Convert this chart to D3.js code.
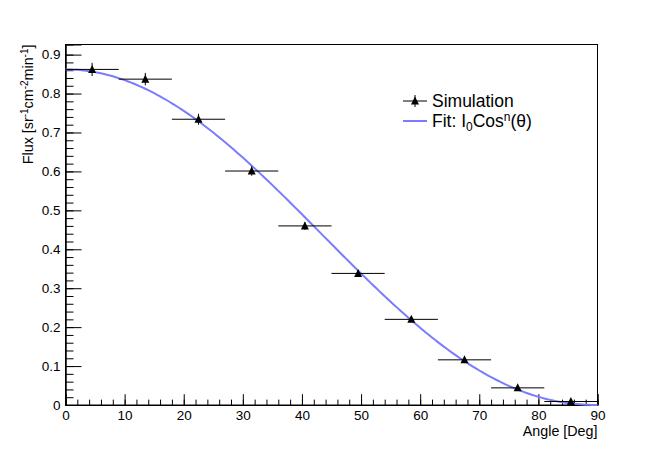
<!DOCTYPE html>
<html>
<head>
<meta charset="utf-8">
<script src="https://cdn.jsdelivr.net/npm/d3@7"></script>
<style>
  body { margin: 0; background: #fff; }
  svg text { font-family: "Liberation Sans", Arial, sans-serif; }
</style>
</head>
<body>
<svg id="chart" width="664" height="450"></svg>
<script>
// bin centres (deg) and half widths
const angles = [4.5, 13.5, 22.5, 31.5, 40.5, 49.5, 58.5, 67.5, 76.5, 85.5];
const angleErr = [4.5, 4.5, 4.5, 4.5, 4.5, 4.5, 4.5, 4.5, 4.5, 4.5];
const flux = [0.862, 0.837, 0.734, 0.601, 0.460, 0.338, 0.220, 0.116, 0.044, 0.009];
const fluxErr = [0.017, 0.016, 0.014, 0.012, 0.010, 0.008, 0.006, 0.005, 0.003, 0.002];

// fit parameters for I0 cos^n(theta)
const fitI0 = 0.862;
const fitN = 2.12;

const xTicks = [0, 10, 20, 30, 40, 50, 60, 70, 80, 90];
const yTicks = [0, 0.1, 0.2, 0.3, 0.4, 0.5, 0.6, 0.7, 0.8, 0.9];

const svg = d3.select("#chart");
const frameLeft = 65.5, frameRight = 597.5, frameTop = 44.5, frameBottom = 405;

const x = d3.scaleLinear().domain([0, 90]).range([frameLeft, frameRight]);
const y = d3.scaleLinear().domain([0, 0.926]).range([frameBottom, frameTop]);

// frame
svg.append("rect")
    .attr("x", frameLeft).attr("y", frameTop)
    .attr("width", frameRight - frameLeft).attr("height", frameBottom - frameTop)
    .attr("fill", "none").attr("stroke", "#000").attr("stroke-width", 1);

// x axis, ticks pointing inside
const xMajor = d3.axisBottom(x).tickValues(xTicks).tickSize(-10.8).tickPadding(5)
    .tickFormat(d3.format("d"));
const xMinor = d3.axisBottom(x).tickValues(d3.range(0, 91, 2)).tickSize(-5.4).tickFormat("");
svg.append("g").attr("transform", `translate(0,${frameBottom})`).call(xMinor);
svg.append("g").attr("class", "xaxis").attr("transform", `translate(0,${frameBottom})`).call(xMajor);

// y axis
const yMajor = d3.axisLeft(y).tickValues(yTicks).tickSize(-16).tickPadding(5)
    .tickFormat(d => d === 0 ? "0" : d.toFixed(1));
const yMinor = d3.axisLeft(y).tickValues(d3.range(0, 46).map(i => i * 0.02)).tickSize(-8).tickFormat("");
svg.append("g").attr("transform", `translate(${frameLeft},0)`).call(yMinor);
svg.append("g").attr("class", "yaxis").attr("transform", `translate(${frameLeft},0)`).call(yMajor);

svg.selectAll(".domain").attr("stroke", "#000");
svg.selectAll(".tick line").attr("stroke", "#000");
svg.selectAll(".tick text").attr("font-size", 13.5).attr("fill", "#000")
    .style("font-family", "'Liberation Sans', Arial, sans-serif");

// axis titles
svg.append("text")
    .attr("x", frameRight).attr("y", 436)
    .attr("text-anchor", "end")
    .attr("font-size", 14.3)
    .text("Angle [Deg]");

const yTitle = svg.append("text")
    .attr("transform", `translate(33,${frameTop}) rotate(-90)`)
    .attr("text-anchor", "end")
    .attr("font-size", 14.3);
yTitle.append("tspan").text("Flux [sr");
yTitle.append("tspan").attr("dy", -5.5).attr("font-size", 10).text("-1");
yTitle.append("tspan").attr("dy", 5.5).text("cm");
yTitle.append("tspan").attr("dy", -5.5).attr("font-size", 10).text("-2");
yTitle.append("tspan").attr("dy", 5.5).text("min");
yTitle.append("tspan").attr("dy", -5.5).attr("font-size", 10).text("-1");
yTitle.append("tspan").attr("dy", 5.5).text("]");

// fit curve
const fitLine = d3.line()
    .x(d => x(d))
    .y(d => y(fitI0 * Math.pow(Math.cos(d * Math.PI / 180), fitN)));
svg.append("path")
    .attr("d", fitLine(d3.range(0, 90.01, 0.5)))
    .attr("fill", "none")
    .attr("stroke", "#7b7bff")
    .attr("stroke-width", 2);

// error bars
const pts = angles.map((a, i) => ({a: a, ea: angleErr[i], f: flux[i], ef: fluxErr[i]}));
svg.selectAll(".hbar").data(pts).join("line")
    .attr("x1", d => x(d.a - d.ea)).attr("x2", d => x(d.a + d.ea))
    .attr("y1", d => y(d.f)).attr("y2", d => y(d.f))
    .attr("stroke", "#000").attr("stroke-width", 1);
svg.selectAll(".vbar").data(pts).join("line")
    .attr("x1", d => x(d.a)).attr("x2", d => x(d.a))
    .attr("y1", d => y(d.f - d.ef)).attr("y2", d => y(d.f + d.ef))
    .attr("stroke", "#000").attr("stroke-width", 1);

// triangle markers
function triangle(cx, cy) {
    return `M${cx},${cy - 4.5}L${cx + 4},${cy + 3.5}L${cx - 4},${cy + 3.5}Z`;
}
svg.selectAll(".marker").data(pts).join("path")
    .attr("d", d => triangle(x(d.a), y(d.f)))
    .attr("fill", "#000");

// legend
const legX = 403, legW = 24, row1 = 101, row2 = 121;
svg.append("line").attr("x1", legX).attr("x2", legX + legW)
    .attr("y1", row1).attr("y2", row1).attr("stroke", "#000");
svg.append("line").attr("x1", legX + legW / 2).attr("x2", legX + legW / 2)
    .attr("y1", row1 - 6).attr("y2", row1 + 6).attr("stroke", "#000");
svg.append("path").attr("d", triangle(legX + legW / 2, row1)).attr("fill", "#000");
svg.append("text").attr("x", 432).attr("y", row1 + 6)
    .attr("font-size", 17.5).text("Simulation");

svg.append("line").attr("x1", legX).attr("x2", legX + legW)
    .attr("y1", row2).attr("y2", row2)
    .attr("stroke", "#7b7bff").attr("stroke-width", 2);
const fitLabel = svg.append("text").attr("x", 432).attr("y", row2 + 6).attr("font-size", 17.5);
fitLabel.append("tspan").text("Fit: I");
fitLabel.append("tspan").attr("dy", 4).attr("font-size", 12).text("0");
fitLabel.append("tspan").attr("dy", -4).text("Cos");
fitLabel.append("tspan").attr("dy", -6).attr("font-size", 12).text("n");
fitLabel.append("tspan").attr("dy", 6).text("(θ)");
</script>
</body>
</html>
